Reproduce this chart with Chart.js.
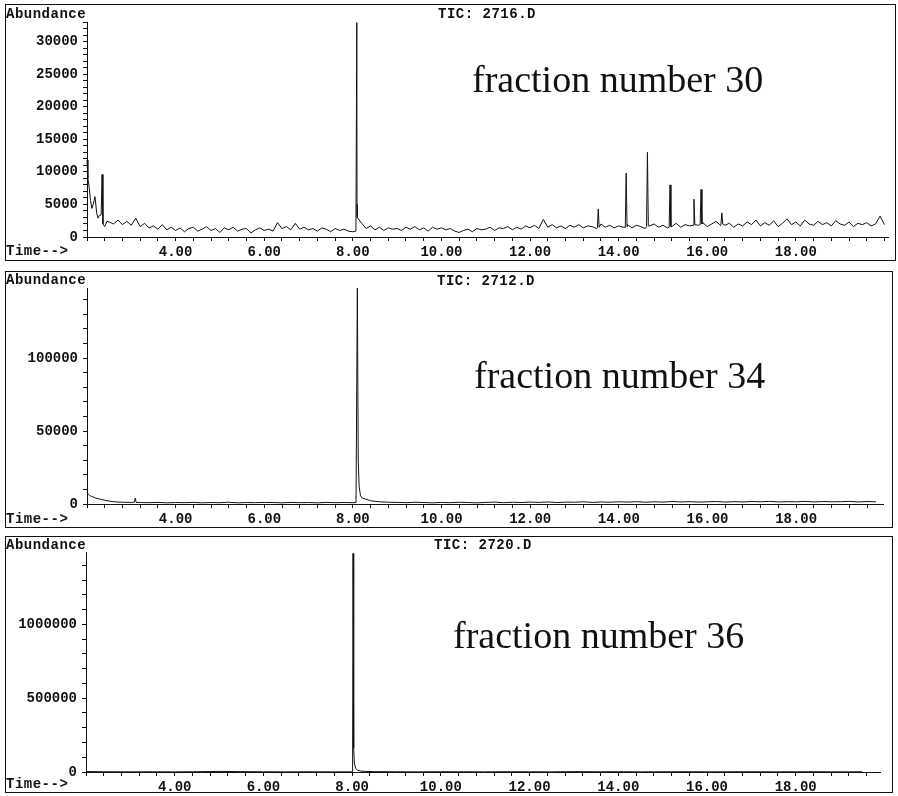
<!DOCTYPE html>
<html>
<head>
<meta charset="utf-8">
<script src="https://cdn.jsdelivr.net/npm/chart.js@4.4.1/dist/chart.umd.min.js"></script>
<style>
    body { margin: 0; background: #fff; width: 898px; height: 796px; position: relative; overflow: hidden; }
    .box { position: absolute; border: 1px solid #111; }
    .box canvas { position: absolute; left: 0; top: 0; }
    .mono { position: absolute; font: bold 14px 'Liberation Mono', monospace; line-height: 14px; letter-spacing: 0.5px; color: #111; white-space: pre; }
    .tic { transform: translateX(-50%); }
    .frac { position: absolute; font: 38px 'Liberation Serif', serif; line-height: 38px; color: #111; white-space: pre; }
</style>
</head>
<body>

<div class="box" style="left:5px; top:4px; width:889px; height:255px;"><canvas id="c30" width="889" height="255"></canvas></div>
<div class="box" style="left:5px; top:271px; width:886px; height:255px;"><canvas id="c34" width="886" height="255"></canvas></div>
<div class="box" style="left:5px; top:536px; width:886px; height:255px;"><canvas id="c36" width="886" height="255"></canvas></div>

<span class="mono" style="left:6px; top:7px;">Abundance</span>
<span class="mono" style="left:6px; top:244px;">Time--&gt;</span>
<span class="mono tic" style="left:487px; top:7px;">TIC: 2716.D</span>
<span class="frac" style="left:472px; top:60px;">fraction number 30</span>

<span class="mono" style="left:6px; top:273px;">Abundance</span>
<span class="mono" style="left:6px; top:512px;">Time--&gt;</span>
<span class="mono tic" style="left:486px; top:274px;">TIC: 2712.D</span>
<span class="frac" style="left:474px; top:356px;">fraction number 34</span>

<span class="mono" style="left:6px; top:538px;">Abundance</span>
<span class="mono" style="left:6px; top:777px;">Time--&gt;</span>
<span class="mono tic" style="left:483px; top:538px;">TIC: 2720.D</span>
<span class="frac" style="left:453px; top:616px;">fraction number 36</span>

<script>
// x axis (minutes)
const xLabels = [4, 6, 8, 10, 12, 14, 16, 18];
const X_START = 2.0;
const X_MINOR = 0.4;

// ---- fraction number 30 (TIC: 2716.D) ----
const headTimes30 = [2.00, 2.02, 2.05, 2.08, 2.11, 2.14, 2.18, 2.22, 2.25, 2.28, 2.32, 2.34, 2.36, 2.40, 2.45];
const headValues30 = [11800, 9000, 7600, 5600, 4400, 5000, 6200, 3600, 2900, 3300, 3400, 9600, 2000, 1600, 2400];
// baseline sampled every 0.1 min from 2.5 to 20.0
const baseStart30 = 2.5;
const baseStep30 = 0.1;
const baseline30 = [
    2300, 2000, 2600, 1900, 2400,
    1800, 2900, 1600, 2100, 1400, 1700, 1200, 1900, 1100, 1500,
    1000, 1400, 800, 1300, 1500, 900, 1200, 1600, 1000, 1300,
    700, 1400, 1100, 1500, 900, 1200, 1300, 600, 1100, 1400,
    1000, 1200, 900, 2200, 1300, 1600, 1100, 2100, 1200, 1500,
    1100, 1300, 900, 1400, 1200, 800, 1300, 1000, 1200, 900,
    800, 3000, 2100, 1300, 1700, 1100, 1500, 1000, 1400, 1200,
    1300, 1000, 1500, 1200, 1600, 1100, 1400, 900, 1500, 1200,
    1400, 1100, 1300, 900, 700, 1000, 1200, 800, 1300, 1100,
    1200, 1500, 1000, 1400, 1300, 1600, 1100, 1500, 1200, 1700,
    1400, 1800, 1300, 2700, 1500, 1900, 1400, 1700, 1300, 1800,
    1500, 1900, 1400, 1700, 1600, 1300, 2000, 1500, 1800, 1400,
    1700, 1500, 1900, 1400, 1800, 1600, 1300, 1700, 2000, 1500,
    1800, 1400, 1600, 2100, 1500, 1900, 1700, 2300, 1800, 2200,
    1600, 2000, 2400, 1800, 1800, 2100, 1500, 2000, 1700, 2300,
    1900, 2600, 1700, 2200, 1800, 2500, 1600, 2100, 2800, 1900,
    2300, 1700, 2600, 2000, 1800, 2400, 1900, 2200, 1700, 2500,
    2000, 1800, 2300, 1600, 2100, 1900, 2200, 1700, 2000, 3200, 1900
];
const spikeTimes30 = [8.07, 8.09, 8.095, 13.52, 13.54, 13.56, 14.15, 14.17, 14.19, 14.63, 14.65, 14.67,
    15.14, 15.16, 15.18, 15.68, 15.70, 15.72, 15.84, 15.86, 15.88, 16.31, 16.33, 16.35];
const spikeValues30 = [900, 32900, 5000, 1400, 4300, 1500, 1500, 9800, 1600, 1600, 13000, 1700,
    1500, 8000, 1600, 1800, 5800, 1900, 1900, 7300, 2000, 2000, 3700, 2000];
const yLabels30 = [0, 5000, 10000, 15000, 20000, 25000, 30000];

// ---- fraction number 34 (TIC: 2712.D) ----
const headTimes34 = [2.00, 2.03, 2.06, 2.10, 2.15, 2.20, 2.30, 2.40, 2.50, 2.60, 2.70];
const headValues34 = [8200, 6600, 5800, 5200, 4700, 4000, 3300, 2600, 2000, 1600, 1300];
// baseline sampled every 0.2 min from 2.8 to 19.8
const baseStart34 = 2.8;
const baseStep34 = 0.2;
const baseline34 = [
    1200, 1100, 1000, 900, 1100, 800, 1000, 900, 1100, 800,
    1000, 900, 1200, 800, 1000, 900, 1100, 1000, 800, 1100,
    900, 1000, 800, 1100, 900, 1000, 900, 4200, 2200, 1500,
    1200, 1100, 900, 1200, 1000, 800, 1100, 900, 1200, 1000,
    800, 1100, 1300, 900, 1200, 1000, 1300, 1100, 1400, 1000,
    1300, 1200, 1500, 1100, 1400, 1200, 1500, 1300, 1600, 1200,
    1500, 1300, 1700, 1400, 1600, 1300, 1500, 1700, 1300, 1600,
    1400, 1700, 1500, 1800, 1400, 1600, 1500, 1800, 1400, 1700,
    1500, 1600, 1800, 1400, 1700, 1500
];
const spikeTimes34 = [3.07, 3.09, 3.11, 8.07, 8.10, 8.12, 8.14, 8.17];
const spikeValues34 = [1200, 4100, 1100, 1000, 148000, 30000, 12000, 6000];
const yLabels34 = [0, 50000, 100000];

// ---- fraction number 36 (TIC: 2720.D) ----
// baseline sampled every 0.5 min from 2.0 to 19.5
const baseStart36 = 2.0;
const baseStep36 = 0.5;
const baseline36 = [
    3000, 1500, 1000, 1500, 1000, 2000, 4000, 2500, 1500, 1000,
    1500, 1000, 1000, 2500, 1500, 1000, 2000, 1500, 1000, 2000,
    1500, 1000, 2500, 1500, 2000, 1000, 1500, 2000, 1000, 1500,
    2000, 1000, 1500, 2000, 1000, 1500
];
const spikeTimes36 = [8.01, 8.02, 8.035, 8.05, 8.08, 8.12, 8.20, 8.30];
const spikeValues36 = [2000, 1480000, 160000, 60000, 25000, 12000, 6000, 4000];
const yLabels36 = [0, 500000, 1000000];

function series(parts) {
    const pts = [];
    parts.forEach(([times, values]) => times.forEach((t, i) => pts.push({ x: t, y: values[i] })));
    return pts.sort((a, b) => a.x - b.x);
}

function grid(start, step, values) {
    return values.map((_, i) => Math.round((start + i * step) * 1000) / 1000);
}

const panels = [
    {
        id: 'c30', xMax: 20.08, yMax: 33000, yMinor: 1000, yLabels: yLabels30,
        area: { left: 81, top: 17, right: 882, bottom: 232 },
        data: series([[headTimes30, headValues30], [grid(baseStart30, baseStep30, baseline30), baseline30], [spikeTimes30, spikeValues30]])
    },
    {
        id: 'c34', xMax: 19.96, yMax: 148000, yMinor: 10000, yLabels: yLabels34,
        area: { left: 81, top: 16, right: 877, bottom: 232 },
        data: series([[headTimes34, headValues34], [grid(baseStart34, baseStep34, baseline34), baseline34], [spikeTimes34, spikeValues34]])
    },
    {
        id: 'c36', xMax: 19.9, yMax: 1490000, yMinor: 100000, yLabels: yLabels36,
        area: { left: 80, top: 15, right: 874, bottom: 235 },
        data: series([[grid(baseStart36, baseStep36, baseline36), baseline36], [spikeTimes36, spikeValues36]])
    }
];

Chart.defaults.font.family = "'Liberation Mono', monospace";
Chart.defaults.font.size = 14;
Chart.defaults.font.weight = 'bold';
Chart.defaults.color = '#111';

panels.forEach(p => {
    const canvas = document.getElementById(p.id);
    const W = canvas.width, H = canvas.height;
    new Chart(canvas, {
        type: 'line',
        data: {
            datasets: [{
                data: p.data,
                borderColor: '#111',
                borderWidth: 1,
                pointRadius: 0,
                tension: 0,
                clip: false
            }]
        },
        options: {
            responsive: false,
            animation: false,
            events: [],
            layout: { padding: { left: 0, top: p.area.top, right: W - p.area.right, bottom: 0 } },
            plugins: { legend: { display: false }, tooltip: { enabled: false } },
            scales: {
                x: {
                    type: 'linear',
                    min: X_START,
                    max: p.xMax,
                    grid: { drawOnChartArea: false, drawTicks: true, tickLength: 4, color: '#111' },
                    border: { display: true, color: '#111', width: 1 },
                    ticks: {
                        autoSkip: false, maxRotation: 0, minRotation: 0, padding: 3,
                        callback: v => xLabels.includes(v) ? v.toFixed(2) : ''
                    },
                    afterBuildTicks: scale => {
                        const ticks = [];
                        for (let k = 0; X_START + k * X_MINOR <= p.xMax + 1e-6; k++) {
                            ticks.push({ value: Math.round((X_START + k * X_MINOR) * 10) / 10 });
                        }
                        scale.ticks = ticks;
                    },
                    afterFit: scale => { scale.height = H - p.area.bottom; }
                },
                y: {
                    min: 0,
                    max: p.yMax,
                    grid: { drawOnChartArea: false, drawTicks: true, tickLength: 4, color: '#111' },
                    border: { display: true, color: '#111', width: 1 },
                    ticks: {
                        autoSkip: false, padding: 5,
                        callback: v => p.yLabels.includes(v) ? String(v) : ''
                    },
                    afterBuildTicks: scale => {
                        const ticks = [];
                        for (let v = 0; v <= p.yMax + 1e-6; v += p.yMinor) ticks.push({ value: v });
                        scale.ticks = ticks;
                    },
                    afterFit: scale => { scale.width = p.area.left; }
                }
            }
        }
    });
});
</script>
</body>
</html>
